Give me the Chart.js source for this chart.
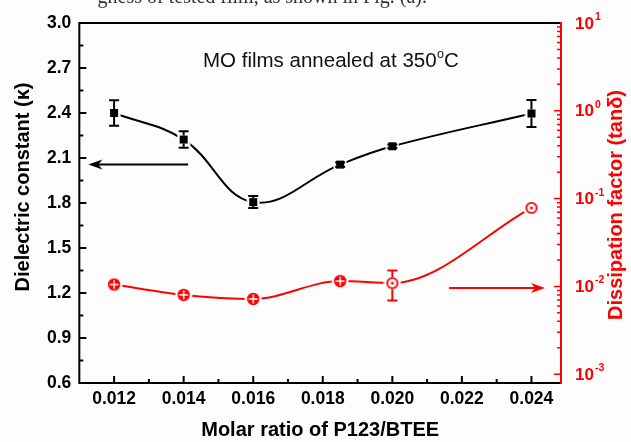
<!DOCTYPE html>
<html>
<head>
<meta charset="utf-8">
<script src="https://cdn.jsdelivr.net/npm/chart.js@4.4.0/dist/chart.umd.min.js"></script>
<style>
  html, body { margin: 0; padding: 0; background: #fdfdfd; }
  #wrap { width: 631px; height: 442px; }
</style>
</head>
<body>
<div id="wrap"><canvas id="c" width="631" height="442"></canvas></div>
<script>
// molar ratio P123/BTEE
const ratio = [0.012, 0.014, 0.016, 0.0185, 0.020, 0.024];
// dielectric constant and its error
const kappa = [2.40, 2.223, 1.806, 2.056, 2.178, 2.397];
const kappaErr = [0.085, 0.055, 0.04, 0.015, 0.012, 0.09];
// dissipation factor tan(delta), with low / high error limits
const tanD = [0.0105, 0.0080, 0.0072, 0.0115, 0.0109, 0.0784];
const tanLow = [0.0099, 0.0075, 0.0068, 0.0108, 0.0069, 0.0762];
const tanHigh = [0.0111, 0.0085, 0.0076, 0.0122, 0.0152, 0.0806];
const tanMark = ['cross', 'cross', 'cross', 'cross', 'dot', 'dot'];

const xTicks = [0.012, 0.014, 0.016, 0.018, 0.020, 0.022, 0.024];
const kTicks = [0.6, 0.9, 1.2, 1.5, 1.8, 2.1, 2.4, 2.7, 3.0];
const tanTicks = [0.001, 0.01, 0.1, 1, 10];
const tanExp = ['-3', '-2', '-1', '0', '1'];

// arrows pointing at the axis each curve belongs to: [xFrom, xTo, y]
const kArrow = [0.01413, 0.01126, 2.056];
const tanArrow = [0.02163, 0.02439, 0.0096];

const RED = '#f00';
const FONT = '"Liberation Sans", Arial, sans-serif';

function makeMarker(w, draw) {
    const c = document.createElement('canvas');
    c.width = w; c.height = w;
    draw(c.getContext('2d'), w / 2);
    return c;
}
const squareMark = makeMarker(14, (g, m) => {
    g.fillStyle = '#fff';
    g.fillRect(m - 6.5, m - 6.5, 13, 13);
    g.fillStyle = '#000';
    g.fillRect(m - 4, m - 4, 8, 8);
});
const crossMark = makeMarker(18, (g, m) => {
    g.fillStyle = '#fff';
    g.beginPath(); g.arc(m, m, 8.5, 0, Math.PI * 2); g.fill();
    g.fillStyle = RED;
    g.beginPath(); g.arc(m, m, 6.2, 0, Math.PI * 2); g.fill();
    g.strokeStyle = '#fff'; g.lineWidth = 1.4;
    g.beginPath(); g.moveTo(m - 4.5, m); g.lineTo(m + 4.5, m);
    g.moveTo(m, m - 4.5); g.lineTo(m, m + 4.5); g.stroke();
});
const dotMark = makeMarker(18, (g, m) => {
    g.fillStyle = '#fff';
    g.beginPath(); g.arc(m, m, 8.5, 0, Math.PI * 2); g.fill();
    g.strokeStyle = RED; g.lineWidth = 1.8;
    g.beginPath(); g.arc(m, m, 5.2, 0, Math.PI * 2); g.stroke();
    g.fillStyle = RED;
    g.beginPath(); g.arc(m, m, 1.5, 0, Math.PI * 2); g.fill();
});

// vertical error bars; the stem stops at the marker edge, caps are kept
// when keepCaps is set even if they fall on the marker
function drawErr(chart, di, hi, lo, color, half, keepCaps) {
    const ctx = chart.ctx;
    const meta = chart.getDatasetMeta(di);
    const sc = chart.scales[meta.yAxisID];
    ctx.save();
    ctx.strokeStyle = color;
    ctx.lineWidth = 2;
    meta.data.forEach((el, i) => {
        const ends = [sc.getPixelForValue(hi[i]), sc.getPixelForValue(lo[i])];
        ends.forEach((ye, k) => {
            const edge = k === 0 ? el.y - half : el.y + half;
            const outside = k === 0 ? ye < edge : ye > edge;
            if (!outside && !keepCaps) return;
            ctx.beginPath();
            if (outside) { ctx.moveTo(el.x, edge); ctx.lineTo(el.x, ye); }
            ctx.moveTo(el.x - 5, ye); ctx.lineTo(el.x + 5, ye);
            ctx.stroke();
        });
    });
    ctx.restore();
}

function arrow(ctx, x0, x1, y, color) {
    const dir = Math.sign(x1 - x0);
    ctx.save();
    ctx.strokeStyle = color; ctx.fillStyle = color; ctx.lineWidth = 2;
    ctx.beginPath(); ctx.moveTo(x0, y); ctx.lineTo(x1 - dir * 8, y); ctx.stroke();
    ctx.beginPath();
    ctx.moveTo(x1, y);
    ctx.lineTo(x1 - dir * 14, y - 5);
    ctx.lineTo(x1 - dir * 10, y);
    ctx.lineTo(x1 - dir * 14, y + 5);
    ctx.closePath(); ctx.fill();
    ctx.restore();
}

const frame = {
    id: 'frame',
    afterDatasetsDraw(chart) {
        drawErr(chart, 0, kappa.map((v, i) => v + kappaErr[i]), kappa.map((v, i) => v - kappaErr[i]), '#000', 4, true);
        drawErr(chart, 1, tanHigh, tanLow, RED, 6, false);
    },
    afterDraw(chart) {
        const ctx = chart.ctx;
        const a = chart.chartArea;
        const xs = chart.scales.x, ys = chart.scales.y, rs = chart.scales.y2;

        ctx.save();
        ctx.lineCap = 'butt';
        ctx.lineWidth = 2;

        // inward tick marks
        ctx.strokeStyle = '#000';
        ctx.beginPath();
        kTicks.forEach((v, i) => {
            const y = ys.getPixelForValue(v);
            ctx.moveTo(a.left, y); ctx.lineTo(a.left + 7, y);
            if (i < kTicks.length - 1) {
                const ym = ys.getPixelForValue((v + kTicks[i + 1]) / 2);
                ctx.moveTo(a.left, ym); ctx.lineTo(a.left + 4, ym);
            }
        });
        xTicks.forEach((v, i) => {
            const x = xs.getPixelForValue(v);
            ctx.moveTo(x, a.bottom); ctx.lineTo(x, a.bottom - 7);
            if (i < xTicks.length - 1) {
                const xm = xs.getPixelForValue((v + xTicks[i + 1]) / 2);
                ctx.moveTo(xm, a.bottom); ctx.lineTo(xm, a.bottom - 4);
            }
        });
        ctx.stroke();

        ctx.strokeStyle = RED;
        ctx.lineWidth = 1.5;
        ctx.beginPath();
        tanTicks.forEach((v, i) => {
            const y = rs.getPixelForValue(v);
            ctx.moveTo(a.right, y); ctx.lineTo(a.right - 7, y);
            if (i < tanTicks.length - 1) {
                for (let k = 2; k < 10; k++) {
                    const ym = rs.getPixelForValue(v * k);
                    ctx.moveTo(a.right, ym); ctx.lineTo(a.right - 4, ym);
                }
            }
        });
        ctx.stroke();

        // box
        ctx.lineWidth = 2;
        ctx.strokeStyle = '#000';
        ctx.beginPath();
        ctx.moveTo(a.right, a.top); ctx.lineTo(a.left, a.top);
        ctx.lineTo(a.left, a.bottom); ctx.lineTo(a.right, a.bottom);
        ctx.stroke();
        ctx.strokeStyle = RED;
        ctx.beginPath();
        ctx.moveTo(a.right, a.top - 1); ctx.lineTo(a.right, a.bottom + 1);
        ctx.stroke();

        // right axis labels 10^n
        ctx.fillStyle = RED;
        ctx.textBaseline = 'middle';
        ctx.textAlign = 'left';
        tanTicks.forEach((v, i) => {
            const y = rs.getPixelForValue(v);
            ctx.font = 'bold 17px ' + FONT;
            ctx.fillText('10', a.right + 14, y + 1);
            const w = ctx.measureText('10').width;
            ctx.font = 'bold 10.5px ' + FONT;
            ctx.fillText(tanExp[i], a.right + 15 + w, y - 6);
        });

        // axis titles drawn bottom-to-top
        ctx.font = 'bold 20px ' + FONT;
        ctx.textAlign = 'center';
        ctx.save();
        ctx.translate(23, 187);
        ctx.rotate(-Math.PI / 2);
        ctx.fillStyle = '#000';
        ctx.fillText('Dielectric constant (κ)', 0, 0);
        ctx.restore();
        ctx.save();
        ctx.translate(616, 205);
        ctx.rotate(-Math.PI / 2);
        ctx.fillStyle = RED;
        ctx.fillText('Dissipation factor (tanδ)', 0, 0);
        ctx.restore();

        // arrows
        arrow(ctx, xs.getPixelForValue(kArrow[0]), xs.getPixelForValue(kArrow[1]), ys.getPixelForValue(kArrow[2]), '#000');
        arrow(ctx, xs.getPixelForValue(tanArrow[0]), xs.getPixelForValue(tanArrow[1]), rs.getPixelForValue(tanArrow[2]), RED);

        // note inside the plot
        ctx.fillStyle = '#111';
        ctx.textAlign = 'left';
        ctx.textBaseline = 'alphabetic';
        ctx.font = '20.5px ' + FONT;
        let tx = 203;
        const s1 = 'MO films annealed at 350';
        ctx.fillText(s1, tx, 67);
        tx += ctx.measureText(s1).width + 0.5;
        ctx.font = '12.5px ' + FONT;
        ctx.fillText('o', tx, 58);
        tx += ctx.measureText('o').width;
        ctx.font = '20.5px ' + FONT;
        ctx.fillText('C', tx, 67);

        // caption line of the page above, mostly cut off
        ctx.font = '20px "Liberation Serif", serif';
        ctx.fillStyle = '#333';
        ctx.textAlign = 'right';
        ctx.fillText('gness of tested film, as shown in Fig. (a).', 427, 3);
        ctx.restore();
    }
};

new Chart(document.getElementById('c'), {
    type: 'line',
    data: {
        datasets: [{
            data: ratio.map((x, i) => ({x: x, y: kappa[i]})),
            yAxisID: 'y',
            borderColor: '#000',
            borderWidth: 2,
            tension: 0.4,
            pointStyle: squareMark,
            pointRadius: 6
        }, {
            data: ratio.map((x, i) => ({x: x, y: tanD[i]})),
            yAxisID: 'y2',
            borderColor: RED,
            borderWidth: 2,
            cubicInterpolationMode: 'monotone',
            pointStyle: ctx => tanMark[ctx.dataIndex] === 'dot' ? dotMark : crossMark,
            pointRadius: 6
        }]
    },
    options: {
        responsive: false,
        devicePixelRatio: 1,
        animation: false,
        events: [],
        layout: { padding: { left: 39, right: 70, top: 23, bottom: 0 } },
        plugins: { legend: { display: false }, tooltip: { enabled: false } },
        scales: {
            x: {
                type: 'linear',
                min: 0.011,
                max: 0.02485,
                afterBuildTicks: s => { s.ticks = xTicks.map(v => ({value: v})); },
                grid: { display: false, drawTicks: false },
                border: { display: false },
                ticks: {
                    padding: 6,
                    color: '#000',
                    font: { family: FONT, size: 17.5, weight: 'bold' },
                    callback: v => v.toFixed(3)
                },
                title: {
                    display: true,
                    text: 'Molar ratio of P123/BTEE',
                    color: '#000',
                    font: { family: FONT, size: 20, weight: 'bold' },
                    padding: { top: 2, bottom: 0 }
                }
            },
            y: {
                position: 'left',
                min: 0.6,
                max: 3.0,
                afterBuildTicks: s => { s.ticks = kTicks.map(v => ({value: v})); },
                grid: { display: false, drawTicks: false },
                border: { display: false },
                ticks: {
                    padding: 8,
                    color: '#000',
                    font: { family: FONT, size: 17.5, weight: 'bold' },
                    callback: v => v.toFixed(1)
                }
            },
            y2: {
                type: 'logarithmic',
                position: 'right',
                min: Math.pow(10, -3.1),
                max: 10,
                grid: { display: false, drawTicks: false },
                border: { display: false },
                ticks: { display: false }
            }
        }
    },
    plugins: [frame]
});
</script>
</body>
</html>
